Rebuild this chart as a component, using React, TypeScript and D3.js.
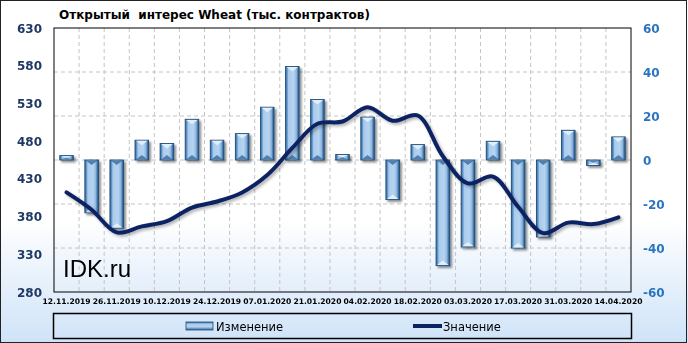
import React from "react";
import * as d3 from "d3";

const dates = [
  "12.11.2019","19.11.2019","26.11.2019","03.12.2019","10.12.2019","17.12.2019","24.12.2019","31.12.2019",
  "07.01.2020","14.01.2020","21.01.2020","28.01.2020","04.02.2020","11.02.2020","18.02.2020","25.02.2020",
  "03.03.2020","10.03.2020","17.03.2020","24.03.2020","31.03.2020","07.04.2020","14.04.2020",
];
const changeValues = [2, -24, -31, 9, 7.5, 18.5, 9, 12, 24, 42.5, 27.5, 2.5, 19.5, -18, 7, -48, -39.5, 8.5, -40, -35, 13.5, -2.5, 10.5];
const totalValues = [412, 389, 359, 367, 374, 392, 400, 412, 435, 471, 503, 506, 525, 507, 514, 460, 424, 433, 393, 358, 372, 370, 379];
const leftTicks = [280, 330, 380, 430, 480, 530, 580, 630];
const rightTicks = [-60, -40, -20, 0, 20, 40, 60];
const title = "Открытый  интерес Wheat (тыс. контрактов)";
const legendLabels = ["Изменение", "Значение"];

const W = 688, H = 343;
const PL = 54, PR = 631, PT = 28, PB = 292;

export default function App() {
  const x = d3.scaleBand<number>().domain(d3.range(dates.length)).range([PL, PR]).paddingInner(0.46).paddingOuter(0.23);
  const step = x.step();
  const yL = d3.scaleLinear().domain([280, 630]).range([PB, PT]);
  const yR = d3.scaleLinear().domain([-60, 60]).range([PB, PT]);
  const bw = x.bandwidth();
  const line = d3.line<number>()
    .x((_, i) => (x(i) as number) + bw / 2)
    .y((d) => yL(d))
    .curve(d3.curveCatmullRom.alpha(0.5));
  const boundaries = d3.range(1, dates.length).map((i) => PL + (PR - PL) * i / dates.length);

  return (
    <svg width={W} height={H} style={{ display: "block", position: "absolute", left: 0, top: 0 }}>
      <defs>
        <linearGradient id="bg" x1="0" y1="0" x2="0" y2={H} gradientUnits="userSpaceOnUse">
          <stop offset="0" stopColor="#ffffff" />
          <stop offset="0.64" stopColor="#ffffff" />
          <stop offset="1" stopColor="#cfe3f8" />
        </linearGradient>
        <linearGradient id="barg" x1="0" y1="0" x2="1" y2="0">
          <stop offset="0" stopColor="#2f6398" />
          <stop offset="0.14" stopColor="#6f9fd0" />
          <stop offset="0.22" stopColor="#a9cbed" />
          <stop offset="0.6" stopColor="#b6d4f0" />
          <stop offset="0.8" stopColor="#8fb7df" />
          <stop offset="0.9" stopColor="#4e7fb3" />
          <stop offset="1" stopColor="#24507f" />
        </linearGradient>
        <linearGradient id="legg" x1="0" y1="0" x2="0" y2="1">
          <stop offset="0" stopColor="#2f6398" />
          <stop offset="0.25" stopColor="#a9cbed" />
          <stop offset="0.6" stopColor="#b6d4f0" />
          <stop offset="1" stopColor="#2f6398" />
        </linearGradient>
        <filter id="sh" x="-50%" y="-50%" width="200%" height="200%">
          <feDropShadow dx="2" dy="2" stdDeviation="1.3" floodColor="#000" floodOpacity="0.45" />
        </filter>
        <filter id="lsh" x="-10%" y="-10%" width="120%" height="120%">
          <feDropShadow dx="2" dy="2" stdDeviation="1.5" floodColor="#000" floodOpacity="0.3" />
        </filter>
      </defs>
      <rect x={0} y={0} width={W} height={H} fill="url(#bg)" />
      <rect x={0.5} y={0.5} width={W - 2} height={H - 1} fill="none" stroke="#222" strokeWidth={1} />

      <text x={59} y={19} fontFamily="DejaVu Sans, Verdana, sans-serif" fontWeight="bold" fontSize={12} fill="#000" style={{ whiteSpace: "pre" }}>{title}</text>

      {/* gridlines */}
      {boundaries.map((bx, i) => (
        <line key={"v" + i} x1={bx} x2={bx} y1={PT} y2={PB} stroke="#c4c4c4" strokeDasharray="4,3" strokeWidth={1} />
      ))}
      {rightTicks.filter((t) => t !== -60 && t !== 60).map((t) => (
        <line key={"h" + t} x1={PL} x2={PR} y1={yR(t)} y2={yR(t)} stroke="#c4c4c4" strokeDasharray="4,3" strokeWidth={1} />
      ))}

      {/* bars */}
      <g filter="url(#sh)">
        {changeValues.map((v, i) => {
          const bx = x(i) as number;
          const y0 = yR(0);
          const y1 = yR(v);
          const top = Math.min(y0, y1);
          const h = Math.abs(y1 - y0);
          const bev = Math.min(5, h / 2);
          const endY = y1;
          const dir = v >= 0 ? 1 : -1;
          return (
            <g key={"b" + i}>
              <rect x={bx} y={top} width={bw} height={Math.max(h, 1)} fill="url(#barg)" stroke="#1f4e79" strokeWidth={0.9} />
              <polygon
                points={`${bx + 1},${endY + dir * 0.6} ${bx + bw - 1},${endY + dir * 0.6} ${bx + bw / 2},${endY + dir * bev}`}
                fill="#e2f0fc" opacity={0.95}
              />
              <polygon
                points={`${bx + 1},${y0 - dir * 0.6} ${bx + bw - 1},${y0 - dir * 0.6} ${bx + bw / 2},${y0 - dir * bev}`}
                fill="#3a6a9c" opacity={0.8}
              />
            </g>
          );
        })}
      </g>

      {/* line */}
      <path d={line(totalValues) || ""} fill="none" stroke="#0a2463" strokeWidth={4} strokeLinejoin="round" strokeLinecap="round" filter="url(#lsh)" />

      {/* plot frame */}
      <rect x={PL} y={PT} width={PR - PL} height={PB - PT} fill="none" stroke="#000" strokeWidth={1} />

      {/* left axis labels */}
      {leftTicks.map((t) => (
        <text key={"l" + t} x={42} y={yL(t) + 4.5} textAnchor="end" fontFamily="DejaVu Sans, Verdana, sans-serif" fontWeight="bold" fontSize={12} fill="#1f3864">{t}</text>
      ))}
      {/* right axis labels */}
      {rightTicks.map((t) => (
        <text key={"r" + t} x={643} y={yR(t) + 4.5} textAnchor="start" fontFamily="DejaVu Sans, Verdana, sans-serif" fontWeight="bold" fontSize={12} fill="#2a74c0">{t}</text>
      ))}
      {/* x labels */}
      {dates.map((d, i) => i % 2 === 0 ? (
        <text key={"x" + i} x={(x(i) as number) + bw / 2} y={304} textAnchor="middle" fontFamily="DejaVu Sans, Verdana, sans-serif" fontWeight="bold" fontSize={7.6} fill="#000">{d}</text>
      ) : null)}

      <text x={63} y={277} fontFamily="Liberation Sans, Arial, sans-serif" fontSize={24} fill="#000">IDK.ru</text>

      {/* legend */}
      <rect x={53.5} y={313.5} width={578} height={25} fill="none" stroke="#000" strokeWidth={1.5} />
      <rect x={186} y={322} width={27} height={8} fill="url(#legg)" stroke="#1f4e79" strokeWidth={0.8} />
      <text x={216} y={331} fontFamily="DejaVu Sans, Tahoma, sans-serif" fontSize={11.5} fill="#000">{legendLabels[0]}</text>
      <line x1={413} x2={442} y1={326} y2={326} stroke="#0a2463" strokeWidth={4} />
      <text x={443} y={331} fontFamily="DejaVu Sans, Tahoma, sans-serif" fontSize={11.5} fill="#000">{legendLabels[1]}</text>
    </svg>
  );
}
